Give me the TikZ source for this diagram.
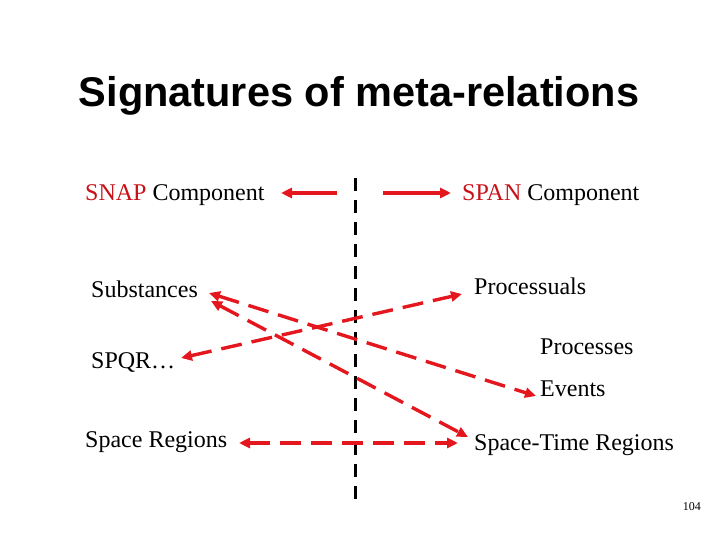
\documentclass[tikz,border=0pt]{standalone}
\usepackage{fontspec}
\setmainfont{Liberation Serif}
\newfontfamily\titlefont{Liberation Sans}
\usetikzlibrary{arrows.meta}
\definecolor{arrred}{RGB}{228,22,30}
\definecolor{txtred}{RGB}{200,16,24}
\begin{document}
\begin{tikzpicture}[x=1pt,y=-1pt,
  lbl/.style={anchor=base west,inner sep=0pt,font=\fontsize{24}{28}\selectfont},
  rel/.style={draw=arrred,line width=3.4pt,dash pattern=on 21pt off 10pt,
    {Triangle[length=11pt,width=10pt]}-{Triangle[length=11pt,width=10pt]}},
  solidarr/.style={draw=arrred,line width=3.6pt,-{Triangle[length=11pt,width=10pt]}},
  divider/.style={draw=black,line width=3pt,dash pattern=on 13pt off 9pt}]
\useasboundingbox (0,0) rectangle (720,540);
\node[anchor=base,inner sep=0pt,font=\titlefont\bfseries\fontsize{41.5}{46}\selectfont] (title) at (359,107) {Signatures of meta-relations};
% labels
\node[lbl] (snap) at (85,201) {\textcolor{txtred}{SNAP} Component};
\node[lbl] (span) at (462,201) {\textcolor{txtred}{SPAN} Component};
\node[lbl] (subst) at (91,297) {Substances};
\node[lbl] (spqr) at (91,368) {SPQR\ldots};
\node[lbl] (sreg) at (85,447) {Space Regions};
\node[lbl] (procl) at (474,294) {Processuals};
\node[lbl] (procs) at (540,354) {Processes};
\node[lbl] (events) at (540,396) {Events};
\node[lbl] (streg) at (474,450) {Space-Time Regions};
\node[anchor=base east,inner sep=0pt,font=\fontsize{12}{14}\selectfont] (pg) at (701,510) {104};
% divider
\coordinate (dtop) at (355,178);
\coordinate (dbot) at (355,505);
\draw[divider] (dtop) -- (dbot);
% top arrows
\coordinate (la1) at (337,193);
\coordinate (la2) at (281,193);
\coordinate (ra1) at (383,193);
\coordinate (ra2) at (451,193);
\draw[solidarr] (la1) -- (la2);
\draw[solidarr] (ra1) -- (ra2);
% relation endpoints
\coordinate (s1) at (209,293);
\coordinate (ev) at (536,396);
\coordinate (s2) at (211,301);
\coordinate (st1) at (468,437);
\coordinate (sq) at (181,358);
\coordinate (pl) at (462,294);
\coordinate (sr) at (239,443);
\coordinate (st2) at (458,443);
\draw[rel] (s1) -- (ev);
\draw[rel] (s2) -- (st1);
\draw[rel] (sq) -- (pl);
\draw[rel] (sr) -- (st2);
\end{tikzpicture}
\end{document}
